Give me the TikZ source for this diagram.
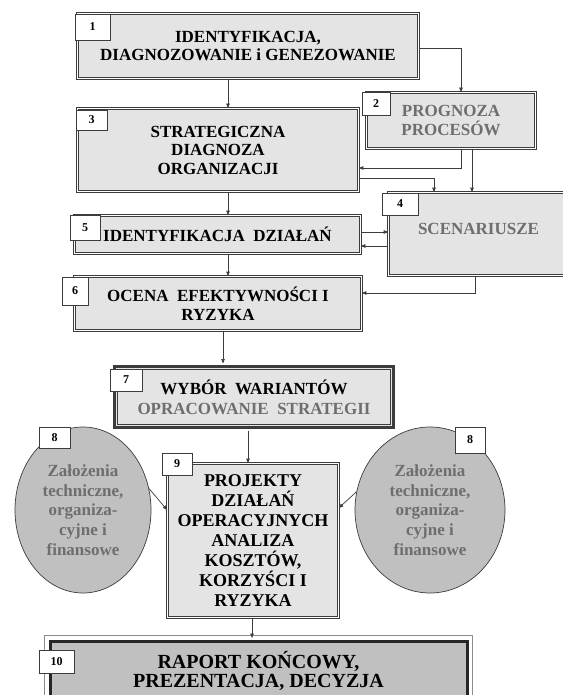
\documentclass[tikz,border=0pt]{standalone}
\usepackage{fontspec}
\setmainfont{Liberation Serif}
\usetikzlibrary{arrows.meta,shapes.geometric}
\definecolor{lightfill}{HTML}{E4E4E4}
\definecolor{darkfill}{HTML}{C0C0C0}
\definecolor{graytext}{HTML}{6E6E6E}
\definecolor{linec}{HTML}{3C3C3C}
\begin{document}
\begin{tikzpicture}[x=1pt,y=-1pt,
  box/.style={rectangle, fill=lightfill, draw=linec, line width=0.7pt, double=white, double distance=1.6pt, inner sep=0pt, font=\bfseries\fontsize{17}{18.5}\selectfont, align=center},
  tag/.style={rectangle, fill=white, draw=linec, line width=0.6pt, inner sep=0pt, font=\bfseries\fontsize{12}{12}\selectfont},
  oval/.style={ellipse, fill=darkfill, draw=linec, line width=0.7pt, inner sep=0pt, font=\bfseries\fontsize{17}{19.8}\selectfont, text=graytext, align=center},
  arr/.style={draw=linec, line width=0.7pt, -{Triangle[length=4.5pt,width=3.5pt]}},
]
\useasboundingbox (0,0) rectangle (562,695);
\fill[white] (0,0) rectangle (562,695);

% helper coordinates
\coordinate (x223) at (223,0);
\coordinate (x228) at (228,0);
\coordinate (x248) at (248,0);
\coordinate (x252) at (252,0);
\coordinate (x434) at (434,0);
\coordinate (x461) at (461,0);
\coordinate (x472) at (472,0);
\coordinate (x475) at (475,0);
\coordinate (y48) at (0,48);
\coordinate (y168) at (0,168);
\coordinate (y178) at (0,178);
\coordinate (y232) at (0,232);
\coordinate (y246) at (0,246);
\coordinate (y293) at (0,293);
\coordinate (y508) at (0,508);
\coordinate (y510) at (0,510);

% boxes
\node[box, minimum width=341, minimum height=65] (b1) at (248,46) {IDENTYFIKACJA,\\DIAGNOZOWANIE i GENEZOWANIE};
\node[box, minimum width=169, minimum height=56, text=graytext] (b2) at (451,120.5) {PROGNOZA\\PROCESÓW};
\node[box, minimum width=281, minimum height=83] (b3) at (218,150) {STRATEGICZNA\\DIAGNOZA\\ORGANIZACJI};
\node[box, minimum width=180, minimum height=83, text=graytext] (b4) at (478.5,234) {\raisebox{10pt}{SCENARIUSZE}};
\node[box, minimum width=286, minimum height=38] (b5) at (217.5,234.5) {IDENTYFIKACJA~~DZIAŁAŃ};
\node[box, minimum width=287, minimum height=54] (b6) at (218,303.5) {OCENA~~EFEKTYWNOŚCI I\\RYZYKA};
\node[rectangle, fill=lightfill, draw=linec, line width=3pt, inner sep=0pt, minimum width=279, minimum height=61, align=center, font=\bfseries\fontsize{17}{20}\selectfont] (b7) at (254,397) {WYBÓR~~WARIANTÓW\\\textcolor{graytext}{OPRACOWANIE~~STRATEGII}};
\draw[linec, line width=0.7pt] ([shift={(4.5,4.5)}]b7.north west) rectangle ([shift={(-4.5,-4.5)}]b7.south east);
\node[oval, minimum width=136, minimum height=166] (e8L) at (83,510) {Założenia\\techniczne,\\organiza-\\cyjne i\\finansowe};
\node[oval, minimum width=150, minimum height=166] (e8R) at (430,510) {Założenia\\techniczne,\\organiza-\\cyjne i\\finansowe};
\node[box, minimum width=171, minimum height=154, font=\bfseries\fontsize{18}{20}\selectfont] (b9) at (253,540.5) {PROJEKTY\\DZIAŁAŃ\\OPERACYJNYCH\\ANALIZA\\KOSZTÓW,\\KORZYŚCI I\\RYZYKA};
\node[rectangle, fill=darkfill, draw=black!85, line width=3pt, inner sep=0pt, minimum width=417, minimum height=60, align=center, font=\bfseries\fontsize{20}{19.5}\selectfont] (b10) at (258.5,671) {RAPORT KOŃCOWY,\\PREZENTACJA, DECYZJA};
\draw[black!45, line width=0.7pt] ([shift={(-3.8,-3.8)}]b10.north west) rectangle ([shift={(3.8,3.8)}]b10.south east);

% number tags
\node[tag, minimum width=35, minimum height=26] (l1) at (92.5,27) {1};
\node[tag, minimum width=28, minimum height=23] (l2) at (376,103.5) {2};
\node[tag, minimum width=31, minimum height=20] (l3) at (91.5,120) {3};
\node[tag, minimum width=36, minimum height=22] (l4) at (400,204) {4};
\node[tag, minimum width=30, minimum height=25] (l5) at (85,227.5) {5};
\node[tag, minimum width=26, minimum height=28] (l6) at (75,291) {6};
\node[tag, minimum width=32, minimum height=22] (l7) at (126,380) {7};
\node[tag, minimum width=31, minimum height=21] (l8a) at (54.5,437.5) {8};
\node[tag, minimum width=30, minimum height=26] (l8b) at (470,440) {8};
\node[tag, minimum width=30, minimum height=22] (l9) at (177,464) {9};
\node[tag, minimum width=35, minimum height=23] (l10) at (56.5,661.5) {10};

% connectors
\draw[arr] (b1.south -| x228) -- (b3.north -| x228);
\draw[arr] (b1.east |- y48) -| (b2.north -| x461);
\draw[arr] (b2.south -| x461) |- (b3.east |- y168);
\draw[arr] (b2.south -| x472) -- (b4.north -| x472);
\draw[arr] (b3.east |- y178) -| (b4.north -| x434);
\draw[arr] (b3.south -| x228) -- (b5.north -| x228);
\draw[arr] (b5.east |- y232) -- (b4.west |- y232);
\draw[arr] (b4.west |- y246) -- (b5.east |- y246);
\draw[arr] (b5.south -| x228) -- (b6.north -| x228);
\draw[arr] (b4.south -| x475) |- (b6.east |- y293);
\draw[arr, shorten >=1.5pt] (b6.south -| x223) -- (b7.north -| x223);
\draw[arr, shorten <=1.5pt] (b7.south -| x248) -- (b9.north -| x248);
\draw[arr] (e8L.18) -- (b9.west |- y510);
\draw[arr] (e8R.166) -- (b9.east |- y508);
\draw[arr, shorten >=1.5pt] (b9.south -| x252) -- (b10.north -| x252);
\end{tikzpicture}
\end{document}
